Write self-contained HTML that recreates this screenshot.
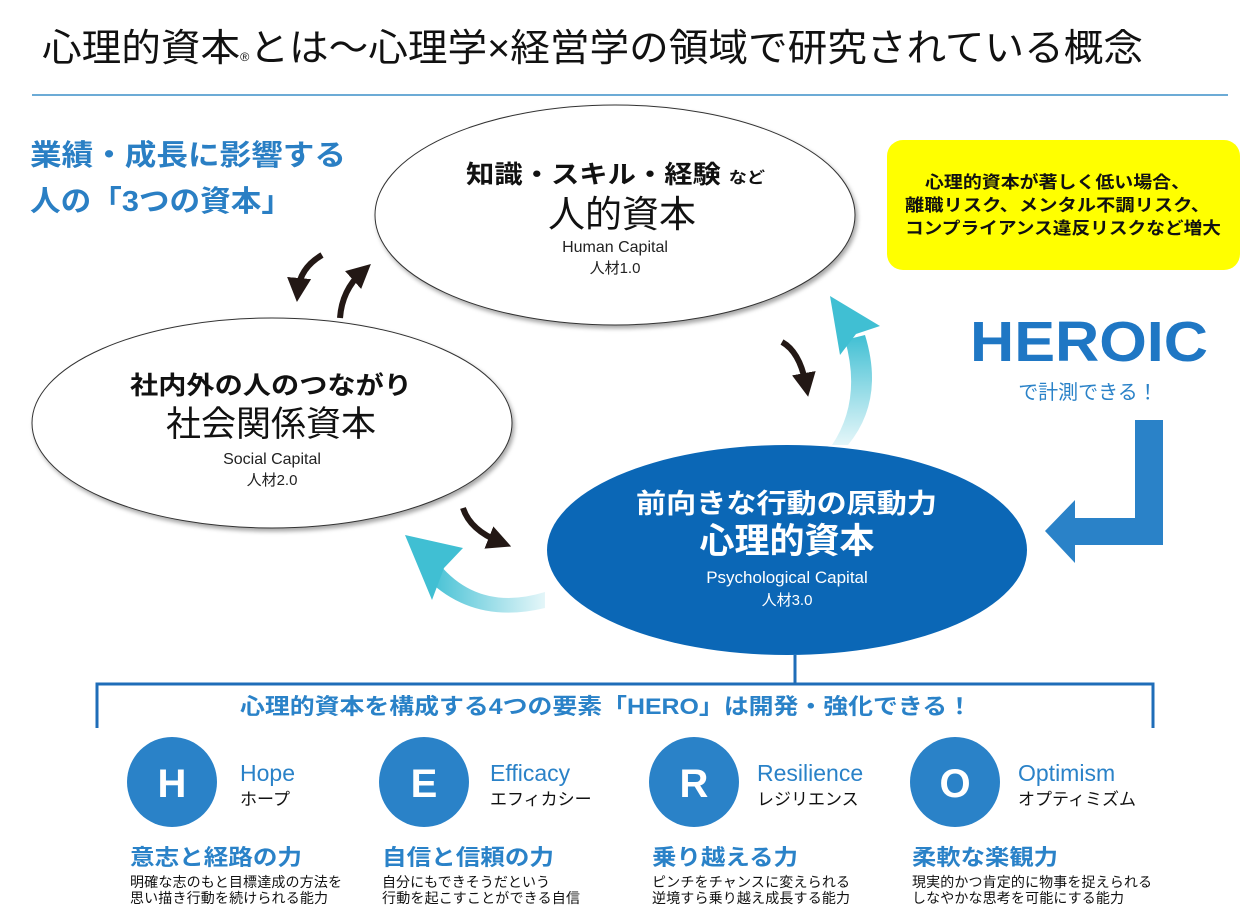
<!DOCTYPE html>
<html><head><meta charset="utf-8"><style>
html,body{margin:0;padding:0;background:#fff;}
svg{display:block;font-family:"Liberation Sans","Noto Sans CJK JP",sans-serif;}
.b{font-weight:bold;}
</style></head><body>
<svg width="1252" height="920" viewBox="0 0 1252 920" xmlns="http://www.w3.org/2000/svg">
<defs>
<linearGradient id="g1" x1="0" y1="1" x2="0" y2="0"><stop offset="0" stop-color="#4cc3d6" stop-opacity="0.15"/><stop offset="1" stop-color="#40bfd3"/></linearGradient>
<linearGradient id="g2" x1="1" y1="0" x2="0" y2="0"><stop offset="0" stop-color="#4cc3d6" stop-opacity="0.15"/><stop offset="1" stop-color="#40bfd3"/></linearGradient>
<marker id="ah" markerWidth="4" markerHeight="4" refX="2" refY="2" orient="auto"><path d="M0,0 L4,2 L0,4 z" fill="#231815"/></marker>
<filter id="sh" x="-10%" y="-10%" width="130%" height="130%"><feDropShadow dx="2" dy="3" stdDeviation="2" flood-color="#000" flood-opacity="0.35"/></filter>
</defs>

<text x="42" y="61" font-size="38" fill="#111" textLength="1101" lengthAdjust="spacingAndGlyphs">心理的資本<tspan font-size="12">®</tspan>とは〜心理学×経営学の領域で研究されている概念</text>
<line x1="32" y1="95" x2="1228" y2="95" stroke="#3b8fc8" stroke-width="1.5"/>

<text x="30" y="165" font-size="29" class="b" fill="#2a7fc4" textLength="316" lengthAdjust="spacingAndGlyphs">業績・成長に影響する</text>
<text x="30" y="211" font-size="29" class="b" fill="#2a7fc4" textLength="262" lengthAdjust="spacingAndGlyphs">人の「3つの資本」</text>

<!-- black arrows -->
<path d="M322,255 Q300,268 298,290" stroke="#231815" stroke-width="6" fill="none" marker-end="url(#ah)"/>
<path d="M340,318 Q342,290 362,272" stroke="#231815" stroke-width="6" fill="none" marker-end="url(#ah)"/>
<path d="M782,342 Q800,352 806,385" stroke="#231815" stroke-width="6" fill="none" marker-end="url(#ah)"/>
<path d="M463,508 Q470,530 500,542" stroke="#231815" stroke-width="6" fill="none" marker-end="url(#ah)"/>

<!-- cyan arrows -->
<path d="M848,445 Q885,400 865,335 L845,340 Q862,400 832,445 Z" fill="url(#g1)"/>
<polygon points="830,296 880,326 856,334 840,355" fill="#40bfd3"/>
<path d="M545,592 Q480,612 440,565 L428,580 Q475,625 545,608 Z" fill="url(#g2)"/>
<polygon points="405,535 463,548 444,568 432,600" fill="#40bfd3"/>

<ellipse cx="615" cy="215" rx="240" ry="110" fill="#fff" stroke="#333" stroke-width="1" filter="url(#sh)"/>
<text x="466" y="183" font-size="25" class="b" fill="#111" textLength="299" lengthAdjust="spacingAndGlyphs">知識・スキル・経験 <tspan font-size="16">など</tspan></text>
<text x="622" y="227" text-anchor="middle" font-size="37" fill="#111">人的資本</text>
<text x="615" y="252" text-anchor="middle" font-size="16" fill="#222">Human Capital</text>
<text x="615" y="273" text-anchor="middle" font-size="15" fill="#222">人材1.0</text>

<ellipse cx="272" cy="423" rx="240" ry="105" fill="#fff" stroke="#333" stroke-width="1" filter="url(#sh)"/>
<text x="130" y="394" font-size="25" class="b" fill="#111" textLength="282" lengthAdjust="spacingAndGlyphs">社内外の人のつながり</text>
<text x="271" y="436" text-anchor="middle" font-size="35" fill="#111">社会関係資本</text>
<text x="272" y="464" text-anchor="middle" font-size="16" fill="#222">Social Capital</text>
<text x="272" y="485" text-anchor="middle" font-size="15" fill="#222">人材2.0</text>

<ellipse cx="787" cy="550" rx="240" ry="105" fill="#0b67b6"/>
<text x="636" y="513" font-size="27" class="b" fill="#fff" textLength="301" lengthAdjust="spacingAndGlyphs">前向きな行動の原動力</text>
<text x="787" y="553" text-anchor="middle" font-size="35" class="b" fill="#fff">心理的資本</text>
<text x="787" y="583" text-anchor="middle" font-size="17" fill="#fff">Psychological Capital</text>
<text x="787" y="605" text-anchor="middle" font-size="15" fill="#fff">人材3.0</text>

<rect x="887" y="140" width="353" height="130" rx="16" fill="#ffff00"/>
<text x="925" y="188" font-size="17" class="b" fill="#111" textLength="265" lengthAdjust="spacingAndGlyphs">心理的資本が著しく低い場合、</text>
<text x="905" y="211" font-size="17" class="b" fill="#111" textLength="305" lengthAdjust="spacingAndGlyphs">離職リスク、メンタル不調リスク、</text>
<text x="905" y="234" font-size="17" class="b" fill="#111" textLength="316" lengthAdjust="spacingAndGlyphs">コンプライアンス違反リスクなど増大</text>

<text x="970" y="361" font-size="57" class="b" fill="#1f77c4" textLength="238" lengthAdjust="spacingAndGlyphs">HEROIC</text>
<text x="1088" y="399" text-anchor="middle" font-size="20" fill="#2a82c8">で計測できる！</text>

<polygon points="1135,420 1163,420 1163,545 1075,545 1075,563 1045,531 1075,500 1075,518 1135,518" fill="#2a82c8"/>

<path d="M97,728 L97,684 L1153,684 L1153,728 M795,684 L795,655" stroke="#1f6db8" stroke-width="3" fill="none"/>
<text x="240" y="714" font-size="22" class="b" fill="#2a82c8" textLength="732" lengthAdjust="spacingAndGlyphs">心理的資本を構成する4つの要素「HERO」は開発・強化できる！</text>

<g fill="#2a82c8">
<circle cx="172" cy="782" r="45"/><circle cx="424" cy="782" r="45"/><circle cx="694" cy="782" r="45"/><circle cx="955" cy="782" r="45"/>
</g>
<g fill="#fff" font-size="40" class="b" text-anchor="middle">
<text x="172" y="797">H</text><text x="424" y="797">E</text><text x="694" y="797">R</text><text x="955" y="797">O</text>
</g>
<g font-size="23" fill="#2a82c8">
<text x="240" y="781">Hope</text><text x="490" y="781">Efficacy</text><text x="757" y="781">Resilience</text><text x="1018" y="781">Optimism</text>
</g>
<g font-size="17" fill="#111">
<text x="240" y="805">ホープ</text><text x="490" y="805">エフィカシー</text><text x="757" y="805">レジリエンス</text><text x="1018" y="805">オプティミズム</text>
</g>
<g font-size="22" class="b" fill="#2a82c8">
<text x="130" y="865" textLength="172" lengthAdjust="spacingAndGlyphs">意志と経路の力</text>
<text x="382" y="865" textLength="172" lengthAdjust="spacingAndGlyphs">自信と信頼の力</text>
<text x="652" y="865" textLength="146" lengthAdjust="spacingAndGlyphs">乗り越える力</text>
<text x="912" y="865" textLength="146" lengthAdjust="spacingAndGlyphs">柔軟な楽観力</text>
</g>
<g font-size="14" fill="#111">
<text x="130" y="887" textLength="212">明確な志のもと目標達成の方法を</text><text x="130" y="903" textLength="198">思い描き行動を続けられる能力</text>
<text x="382" y="887" textLength="168">自分にもできそうだという</text><text x="382" y="903" textLength="198">行動を起こすことができる自信</text>
<text x="652" y="887" textLength="198">ピンチをチャンスに変えられる</text><text x="652" y="903" textLength="198">逆境すら乗り越え成長する能力</text>
<text x="912" y="887" textLength="240">現実的かつ肯定的に物事を捉えられる</text><text x="912" y="903" textLength="212">しなやかな思考を可能にする能力</text>
</g>
</svg>
</body></html>
